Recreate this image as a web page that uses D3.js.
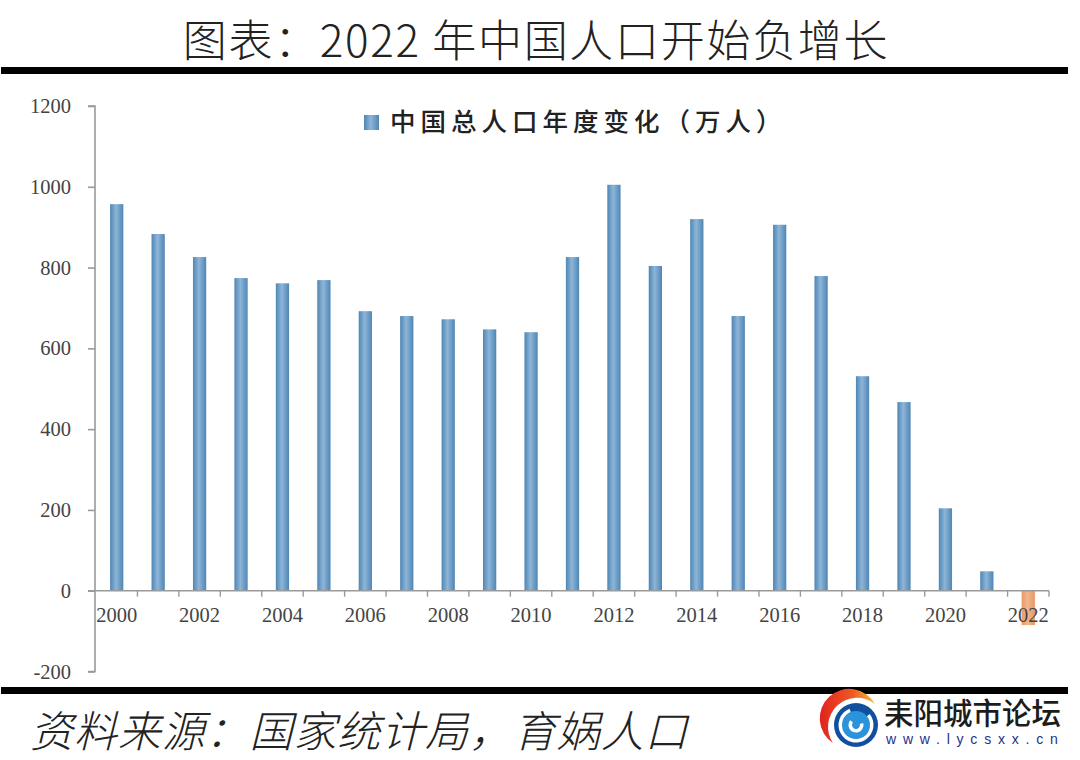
<!DOCTYPE html>
<html>
<head>
<meta charset="utf-8">
<script src="https://cdn.jsdelivr.net/npm/d3@7/dist/d3.min.js"></script>
<style>
html, body { margin: 0; padding: 0; background: #fff; }
svg { display: block; }
.tick-label { font-family: "Liberation Serif", serif; font-size: 20.5px; fill: #444; }
.cn { font-family: "Noto Sans CJK SC", sans-serif; }
</style>
</head>
<body>
<svg id="chart" width="1080" height="760"></svg>
<script>
const years = d3.range(2000, 2023);
const changes = [957, 883, 826, 774, 761, 769, 692, 680, 672, 647, 640, 826, 1005, 804, 920, 680, 906, 779, 531, 467, 204, 48, -85];
const yTicks = [-200, 0, 200, 400, 600, 800, 1000, 1200];
const titleText = "图表：2022 年中国人口开始负增长";
const legendText = "中国总人口年度变化（万人）";
const sourceText = "资料来源：国家统计局，育娲人口";

const svg = d3.select("#chart");

const x = d3.scaleBand().domain(years).range([96, 1049]).paddingInner(0.68).paddingOuter(0.34);
const y = d3.scaleLinear().domain([-200, 1200]).range([671.5, 106]);

// 막대 그라데이션
const defs = svg.append("defs");
function barGrad(id, edge, mid) {
    const g = defs.append("linearGradient").attr("id", id);
    g.append("stop").attr("offset", "0%").attr("stop-color", edge);
    g.append("stop").attr("offset", "45%").attr("stop-color", mid);
    g.append("stop").attr("offset", "100%").attr("stop-color", edge);
}
barGrad("blueBar", "#4f86b4", "#8db5d8");
barGrad("orangeBar", "#e49a68", "#f3b68c");

// title + rules
svg.append("text").attr("class", "cn").attr("x", 536).attr("y", 57)
    .attr("text-anchor", "middle").attr("font-size", 44).attr("font-weight", 300)
    .attr("letter-spacing", 1.7).attr("fill", "#222").text(titleText);
svg.append("rect").attr("x", 1).attr("y", 67).attr("width", 1067).attr("height", 7).attr("fill", "#000");
svg.append("rect").attr("x", 1).attr("y", 687).attr("width", 1067).attr("height", 7).attr("fill", "#000");

// bars
svg.selectAll(".bar").data(years).enter().append("rect")
    .attr("class", "bar")
    .attr("x", d => x(d))
    .attr("width", x.bandwidth())
    .attr("y", (d, i) => y(Math.max(0, changes[i])))
    .attr("height", (d, i) => Math.abs(y(changes[i]) - y(0)))
    .attr("fill", (d, i) => changes[i] < 0 ? "url(#orangeBar)" : "url(#blueBar)");

// y axis
const yAxis = d3.axisLeft(y).tickValues(yTicks).tickSize(7).tickPadding(17).tickFormat(d => String(d));
const yG = svg.append("g").attr("transform", "translate(95,0)").call(yAxis);
yG.selectAll("path, line").attr("stroke", "#9a9a9a").attr("stroke-width", 1.6);
yG.select("path").attr("d", `M-7,${y(1200)}H0V${y(-200)}H-7`);
yG.selectAll("text").attr("class", "tick-label").attr("font-family", null).attr("font-size", null);

// x axis (ticks on category edges, labels every 2 years)
const xEdges = years.slice(1).map(d => x(d) + x.bandwidth() / 2 - x.step() / 2).concat(1049);
svg.append("line").attr("x1", 88).attr("x2", 1049).attr("y1", y(0)).attr("y2", y(0))
    .attr("stroke", "#9a9a9a").attr("stroke-width", 1.6);
svg.selectAll(".x-tick").data(xEdges).enter().append("line").attr("class", "x-tick")
    .attr("x1", d => d).attr("x2", d => d).attr("y1", y(0)).attr("y2", y(0) + 6)
    .attr("stroke", "#9a9a9a").attr("stroke-width", 1.4);
svg.selectAll(".x-label").data(years.filter(d => d % 2 === 0)).enter().append("text")
    .attr("class", "tick-label")
    .attr("x", d => x(d) + x.bandwidth() / 2)
    .attr("y", 622)
    .attr("text-anchor", "middle")
    .text(d => d);

// legend
svg.append("rect").attr("x", 364).attr("y", 115).attr("width", 15).attr("height", 15).attr("fill", "url(#blueBar)");
svg.append("text").attr("class", "cn").attr("x", 390).attr("y", 131)
    .attr("font-size", 25.5).attr("font-weight", 500).attr("letter-spacing", 5)
    .attr("fill", "#222").text(legendText);

// source
svg.append("text").attr("class", "cn").attr("x", 30).attr("y", 747)
    .attr("font-size", 43).attr("font-weight", 300).attr("font-style", "italic")
    .attr("letter-spacing", 0.9).attr("fill", "#222").text(sourceText);

// logo
const crescent = defs.append("linearGradient").attr("id", "crescent");
crescent.append("stop").attr("offset", "0%").attr("stop-color", "#e2231f");
crescent.append("stop").attr("offset", "60%").attr("stop-color", "#ee5a24");
crescent.append("stop").attr("offset", "100%").attr("stop-color", "#f6c23a");
svg.append("path").attr("fill", "url(#crescent)")
    .attr("d", "M833,743 A29.5,29.5 0 1 1 875,704 A29,29 0 0 0 833,743 Z");

const logo = svg.append("g").attr("transform", "translate(856,725)");
const arc = d3.arc();
logo.append("circle").attr("r", 22).attr("fill", "#10509f");
logo.append("circle").attr("r", 14).attr("fill", "#2a93dc");
logo.append("path").attr("d", arc({innerRadius: 14, outerRadius: 17.5, startAngle: 0.9, endAngle: 5.9})).attr("fill", "#fff");
logo.append("path").attr("d", arc({innerRadius: 4, outerRadius: 7.5, startAngle: 1.3, endAngle: 5.4})).attr("fill", "#fff");
svg.append("text").attr("class", "cn").attr("x", 884).attr("y", 724)
    .attr("font-size", 29.5).attr("font-weight", 500).attr("fill", "#1c1c1c").text("耒阳城市论坛");
svg.append("text").attr("x", 886).attr("y", 744)
    .attr("font-family", "Liberation Sans, sans-serif").attr("font-size", 14)
    .attr("letter-spacing", 6.8).attr("fill", "#1d2f8f").text("www.lycsxx.cn");
</script>
</body>
</html>
